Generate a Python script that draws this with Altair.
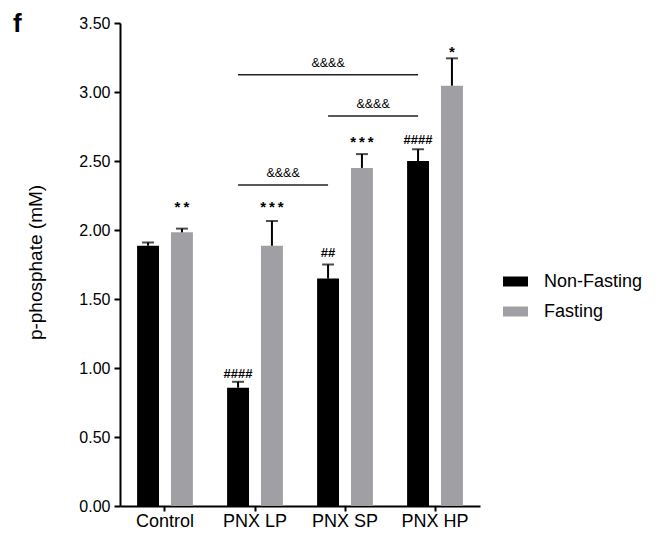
import altair as alt
import pandas as pd

# ---- data ----
categories = ["Control", "PNX LP", "PNX SP", "PNX HP"]
groups = ["Non-Fasting", "Fasting"]

nonfasting_mean = [1.886, 0.857, 1.648, 2.500]
nonfasting_top = [1.910, 0.900, 1.750, 2.585]   # mean + error
fasting_mean = [1.983, 1.886, 2.450, 3.046]
fasting_top = [2.010, 2.065, 2.550, 3.244]

nonfasting_sig = ["", "####", "##", "####"]
nonfasting_sig_y = [0.0, 0.930, 1.807, 2.626]
fasting_sig = ["*\u2009*", "*\u2009*\u2009*", "*\u2009*\u2009*", "*"]
fasting_sig_y = [2.130, 2.130, 2.600, 3.255]

bracket_start = ["PNX LP", "PNX SP", "PNX LP"]
bracket_end = ["PNX HP", "PNX HP", "PNX SP"]
bracket_y = [3.125, 2.826, 2.326]
bracket_text = ["&&&&", "&&&&", "&&&&"]

panel_letter = ["f"]

y_ticks = [0, 0.5, 1.0, 1.5, 2.0, 2.5, 3.0, 3.5]

# ---- layout ----
W, H = 360, 483
STEP = W / len(categories)
FONT = "Liberation Sans"

bars = pd.DataFrame(
    {
        "category": categories * 2,
        "group": ["Non-Fasting"] * 4 + ["Fasting"] * 4,
        "mean": nonfasting_mean + fasting_mean,
        "top": nonfasting_top + fasting_top,
    }
)

sig_rows = []
for c, t, v in zip(categories, nonfasting_sig, nonfasting_sig_y):
    if t:
        sig_rows.append({"category": c, "group": "Non-Fasting", "label": t, "y": v, "kind": "hash"})
for c, t, v in zip(categories, fasting_sig, fasting_sig_y):
    if t:
        sig_rows.append({"category": c, "group": "Fasting", "label": t, "y": v, "kind": "star"})
sig = pd.DataFrame(sig_rows)

x_axis = alt.Axis(
    title=None, labelAngle=0, labelFontSize=18, labelFont=FONT, labelColor="#000",
    tickSize=5, tickWidth=2, tickColor="#000", domainColor="#000", domainWidth=2,
    labelPadding=1,
)
y_axis = alt.Axis(
    values=y_ticks, format=".2f", title="p-phosphate (mM)", labelFontSize=16,
    labelFont=FONT, labelColor="#000", tickSize=6, tickWidth=2, tickColor="#000",
    domainColor="#000", domainWidth=2, labelPadding=4, grid=False,
    titleFont=FONT, titleFontSize=19, titleFontWeight="normal", titleColor="#000",
    titleX=-79, titleY=239, titleAngle=-90, titleAlign="center", titleBaseline="alphabetic",
)

x_scale = alt.Scale(domain=categories, paddingInner=0.38, paddingOuter=0.19)
xo_scale = alt.Scale(domain=groups, paddingInner=0.353, paddingOuter=0)
y_scale = alt.Scale(domain=[0, 3.5], nice=False, zero=True)


def X():
    return alt.X("category:N", sort=categories, scale=x_scale, axis=x_axis)


def XO():
    return alt.XOffset("group:N", sort=groups, scale=xo_scale)


def Y(field):
    return alt.Y(f"{field}:Q", scale=y_scale, axis=y_axis)


bar_layer = alt.Chart(bars).mark_bar().encode(
    x=X(), xOffset=XO(), y=Y("mean"),
    color=alt.Color(
        "group:N", sort=groups,
        scale=alt.Scale(domain=groups, range=["#000000", "#a0a0a4"]),
        legend=alt.Legend(
            title=None, orient="none", legendX=383, legendY=246,
            symbolType="M-1,-0.4H1V0.4H-1Z", symbolSize=625, symbolStrokeWidth=0,
            labelFont=FONT, labelFontSize=18, labelColor="#000", labelOffset=16,
            rowPadding=8,
        ),
    ),
)

err_rule = alt.Chart(bars).mark_rule(color="#000", strokeWidth=2).encode(
    x=X(), xOffset=XO(), y=Y("mean"), y2="top:Q"
)
err_cap = alt.Chart(bars).mark_tick(color="#000", thickness=2, size=12, orient="horizontal").encode(
    x=X(), xOffset=XO(), y=Y("top")
)

hash_layer = alt.Chart(sig).transform_filter(alt.datum.kind == "hash").mark_text(
    font=FONT, fontSize=13, fontWeight="bold", color="#000", baseline="alphabetic", align="center"
).encode(x=X(), xOffset=XO(), y=Y("y"), text="label:N")

star_layer = alt.Chart(sig).transform_filter(alt.datum.kind == "star").mark_text(
    font=FONT, fontSize=15, fontWeight="bold", color="#000", baseline="alphabetic", align="center"
).encode(x=X(), xOffset=XO(), y=Y("y"), text="label:N")

letter_layer = alt.Chart(pd.DataFrame({"t": panel_letter})).mark_text(
    font=FONT, fontSize=26, fontWeight="bold", color="#000", baseline="alphabetic", align="left"
).encode(text="t:N", x=alt.value(-107), y=alt.value(9))

layers = [bar_layer, err_rule, err_cap, hash_layer, star_layer, letter_layer]

for i, (s, e, yv, t) in enumerate(zip(bracket_start, bracket_end, bracket_y, bracket_text)):
    bdf = pd.DataFrame(
        {"category": [s, e], "group": ["Non-Fasting"] * 2, "y": [yv, yv], "label": [t, t]}
    )
    layers.append(
        alt.Chart(bdf).mark_line(color="#222", strokeWidth=1.5).encode(
            x=X(), xOffset=XO(), y=Y("y")
        )
    )
    span = categories.index(e) - categories.index(s)
    layers.append(
        alt.Chart(bdf.iloc[[0]]).mark_text(
            font=FONT, fontSize=12.5, color="#000", baseline="alphabetic",
            align="center", dx=STEP / 2 * span, dy=-8,
        ).encode(x=X(), xOffset=XO(), y=Y("y"), text="label:N")
    )

chart = (
    alt.layer(*layers)
    .properties(
        width=W, height=H, autosize="none",
        padding={"left": 112, "top": 15, "right": 165, "bottom": 26},
    )
    .configure_view(stroke=None)
)

chart.save("out.html", embed_options={"renderer": "svg", "actions": False})
